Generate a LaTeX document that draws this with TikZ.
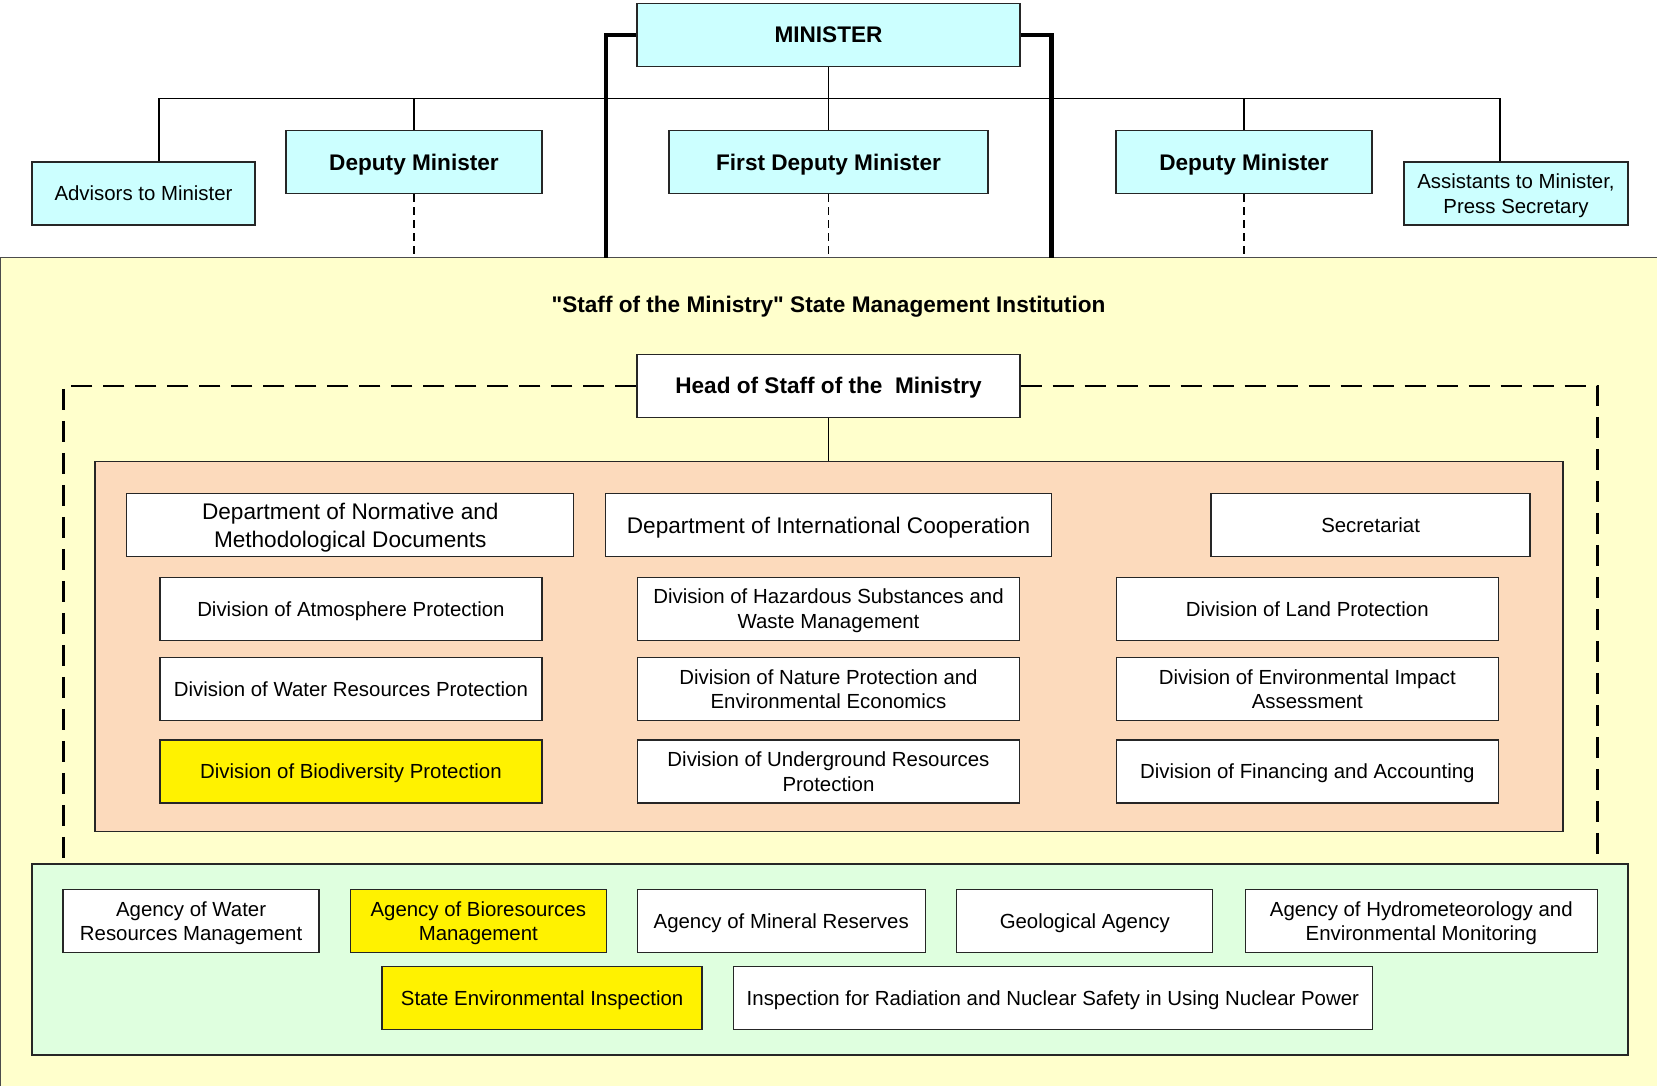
\documentclass[tikz,border=0pt]{standalone}
\usepackage{fontspec}
\setmainfont{Liberation Sans}
\definecolor{ministry}{HTML}{CCFFFF}
\definecolor{staffbg}{HTML}{FFFFCC}
\definecolor{deptbg}{HTML}{FCDABC}
\definecolor{agencybg}{HTML}{DFFFDF}

\begin{document}
\begin{tikzpicture}[x=1pt,y=-1pt,
  every node/.style={align=center,inner sep=2pt,text depth=0pt},
  post/.style={draw=black!85,line width=1.3pt,minimum height=63pt,font=\fontsize{20.4}{24.4}\selectfont},
  chief/.style={post,fill=ministry,font=\fontsize{22.6}{27}\bfseries},
  aide/.style={post,fill=ministry},
  unit/.style={post,fill=white},
  focus/.style={post,fill=yellow},
  dept/.style={unit,font=\fontsize{22.6}{27.5}\selectfont},
  link/.style={line width=1.2pt},
  spine/.style={line width=4.5pt},
  sub/.style={line width=1.5pt,dash pattern=on 8pt off 5pt},
  frame/.style={line width=2.4pt,dash pattern=on 21pt off 11pt}]

\useasboundingbox (0,0) rectangle (1657,1086);

% state management institution
\fill[staffbg] (0,257.7) rectangle (1657,1086);
\draw[link,black!70] (1657,257.7) -- (0.8,257.7) -- (0.8,1086);
\coordinate (staffTop) at (0,257.7);

% minister and deputies
\node[chief,minimum width=383pt] (minister) at (828.5,35) {MINISTER};

\node[aide,minimum width=223pt] (advisors) at (143.5,193.5) {Advisors to Minister};
\node[chief,minimum width=256pt] (depL) at (414,162) {Deputy Minister};
\node[chief,minimum width=319pt] (first) at (828.5,162) {First Deputy Minister};
\node[chief,minimum width=256pt] (depR) at (1244,162) {Deputy Minister};
\node[aide,minimum width=224pt] (assistants) at (1516,193.5) {Assistants to Minister,\\Press Secretary};

\coordinate (busL) at (159,98.3);
\coordinate (busR) at (1500,98.3);
\coordinate (spineL) at (606,257.7);
\coordinate (spineR) at (1051.3,257.7);

\draw[link] (busL |- advisors.north) -- (busL) -- (busR) -- (busR |- assistants.north);
\draw[link] (minister) -- (first);
\draw[link] (depL.north) -- (depL.north |- busL);
\draw[link] (depR.north) -- (depR.north |- busL);
\draw[spine] (minister.west) -| (spineL);
\draw[spine] (minister.east) -| (spineR);
\draw[sub] (depL.south) -- (depL.south |- staffTop);
\draw[sub] (first.south) -- (first.south |- staffTop);
\draw[sub] (depR.south) -- (depR.south |- staffTop);

\node[font=\fontsize{22.6}{27}\bfseries] (title) at (828.5,304) {\textquotedbl Staff of the Ministry\textquotedbl{} State Management Institution};

% staff of the ministry
\node[unit,font=\fontsize{22.6}{27}\bfseries,minimum width=383pt] (head) at (828.5,385.7) {Head of Staff of the~~Ministry};

\coordinate (frameL) at (63.5,864);
\coordinate (frameR) at (1597.5,864);
\draw[frame] (head.west) -| (frameL);
\draw[frame] (head.east) -| (frameR);

\node[draw=black!85,line width=1.3pt,fill=deptbg,minimum width=1468pt,minimum height=370pt,inner sep=0pt] (staff) at (829,646.8) {};
\node[draw=black!85,line width=1.3pt,fill=agencybg,minimum width=1596pt,minimum height=191pt,inner sep=0pt] (agencies) at (830,959.5) {};
\draw[link] (head) -- (head |- staff.north);

\node[dept,minimum width=447pt] (normative) at (350.3,525.3) {Department of Normative and\\Methodological Documents};
\node[dept,minimum width=446pt] (intl) at (828.5,525.3) {Department of International Cooperation};
\node[unit,minimum width=319pt] (secretariat) at (1370.6,525.3) {Secretariat};

\node[unit,minimum width=382pt] (atmosphere) at (350.9,608.7) {Division of Atmosphere Protection};
\node[unit,minimum width=382pt] (hazard) at (828.5,608.7) {Division of Hazardous Substances and\\Waste Management};
\node[unit,minimum width=382pt] (land) at (1307.3,608.7) {Division of Land Protection};

\node[unit,minimum width=382pt] (water) at (350.9,689) {Division of Water Resources Protection};
\node[unit,minimum width=382pt] (nature) at (828.5,689) {Division of Nature Protection and\\Environmental Economics};
\node[unit,minimum width=382pt] (eia) at (1307.3,689) {Division of Environmental Impact\\Assessment};

\node[focus,minimum width=382pt] (biodiv) at (350.9,771.5) {Division of Biodiversity Protection};
\node[unit,minimum width=382pt] (underground) at (828.5,771.5) {Division of Underground Resources\\Protection};
\node[unit,minimum width=382pt] (finance) at (1307.3,771.5) {Division of Financing and Accounting};

% agencies and inspections
\node[unit,minimum width=256pt] (waterAg) at (191.1,921) {Agency of Water\\Resources Management};
\node[focus,minimum width=256pt] (bioAg) at (478.3,921) {Agency of Bioresources\\Management};
\node[unit,minimum width=288pt] (mineralAg) at (781.2,921) {Agency of Mineral Reserves};
\node[unit,minimum width=256pt] (geoAg) at (1084.8,921) {Geological Agency};
\node[unit,minimum width=352pt] (hydroAg) at (1421.3,921) {Agency of Hydrometeorology and\\Environmental Monitoring};

\node[focus,minimum width=320pt] (envInsp) at (542.1,997.7) {State Environmental Inspection};
\node[unit,minimum width=639pt] (nuclearInsp) at (1052.9,997.7) {Inspection for Radiation and Nuclear Safety in Using Nuclear Power};

\end{tikzpicture}
\end{document}
